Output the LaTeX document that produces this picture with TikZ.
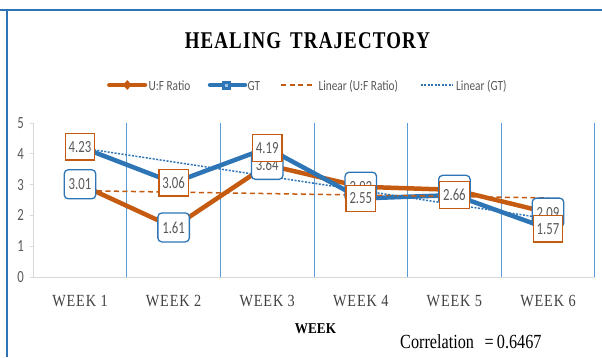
\documentclass[tikz,border=0pt]{standalone}
\usepackage{fontspec}
\usepackage{graphicx}
\usepackage{xcolor}
\usepackage{tikz}
\usetikzlibrary{shapes.geometric}
\setmainfont{Liberation Serif}
\newfontfamily\chartfont{Carlito}
\newfontfamily\spacedfont[LetterSpace=6]{Liberation Serif}
\definecolor{ufcol}{HTML}{C55A11}
\definecolor{gtcol}{HTML}{2E75B6}
\definecolor{gridcol}{HTML}{5B9BD5}
\definecolor{txtgray}{HTML}{595959}
\definecolor{weekgray}{HTML}{404040}
\definecolor{axisgray}{HTML}{D9D9D9}
\newcommand{\narrow}[2]{\scalebox{#1}[1]{#2}}

\tikzset{
  ufline/.style={ufcol, line width=4.5pt, line join=round, line cap=round},
  gtline/.style={gtcol, line width=4.5pt, line join=round, line cap=round},
  ufdash/.style={ufcol, line width=1.5pt, dash pattern=on 5pt off 3.5pt},
  gtdot/.style={gtcol, line width=1.5pt, dash pattern=on 2pt off 1.5pt},
  ufbox/.style={draw=gtcol, fill=white, line width=1.3pt, rounded corners=4pt,
    minimum width=31.5pt, minimum height=29pt, inner sep=0pt, text=txtgray,
    font=\chartfont\fontsize{17}{17}\selectfont},
  gtbox/.style={draw=ufcol, fill=white, line width=1.3pt,
    minimum width=29.5pt, minimum height=26.5pt, inner sep=0pt, text=txtgray,
    font=\chartfont\fontsize{17}{17}\selectfont},
  legtext/.style={anchor=base west, inner sep=0pt, text=txtgray,
    font=\chartfont\fontsize{14}{14}\selectfont},
  tick/.style={anchor=east, inner sep=0pt, text=txtgray,
    font=\chartfont\fontsize{17}{17}\selectfont},
  weeklabel/.style={anchor=base, inner sep=0pt, text=weekgray,
    font=\spacedfont\fontsize{17}{17}\selectfont}
}

\begin{document}
\begin{tikzpicture}[x=1pt,y=1pt]
\useasboundingbox (0,0) rectangle (602,357);

% frame
\draw[gtcol, line width=2pt] (0,347)--(602,347);
\draw[gtcol, line width=2pt] (7,347)--(7,0);

% title
\node[anchor=base, inner sep=0pt] (title) at (307.4,308.7)
  {\spacedfont\fontsize{24}{24}\selectfont\bfseries\narrow{0.79}{HEALING\hspace{4pt} TRAJECTORY}};

% legend
\draw[ufline] (109.3,272)--(145,272);
\node[diamond, fill=ufcol, inner sep=0pt, minimum width=9pt, minimum height=10pt] (lgu) at (127.3,272) {};
\node[legtext] (lguf) at (148.3,267) {\narrow{0.81}{U:F Ratio}};
\draw[gtline] (210,272)--(245,272);
\node[rectangle, fill=gtcol, inner sep=0pt, minimum size=9pt] (lgg) at (226.7,272) {};
\fill[gridcol!60!white] (225.2,270.5) rectangle (228.2,273.5);
\node[legtext] (lggt) at (247.3,267) {\narrow{0.81}{GT}};
\draw[ufdash] (281,272)--(312.3,272);
\node[legtext] (lgtu) at (318.3,267) {\narrow{0.81}{Linear (U:F Ratio)}};
\draw[gtdot] (420.7,272)--(453.3,272);
\node[legtext] (lgtg) at (456,267) {\narrow{0.81}{Linear (GT)}};

% axis titles
\node[anchor=base, inner sep=0pt] (xtitle) at (315.5,24)
  {\fontsize{15}{15}\selectfont\bfseries\narrow{0.88}{WEEK}};
\node[anchor=base west, inner sep=0pt] (corr) at (400,8.7)
  {\fontsize{20}{20}\selectfont\narrow{0.81}{Correlation\hspace{13pt}=\hspace{4pt}0.6467}};

\begin{scope}[shift={(-13.6pt,80pt)}, x=93.6pt, y=30.8pt]
% axes and grid
\draw[axisgray, line width=1pt] (0.5,0)--(0.5,5);
\draw[axisgray, line width=1pt] (0.466,0)--(6.5,0);
\foreach \v in {0,...,5} {
  \draw[axisgray, line width=1pt] (0.462,\v)--(0.5,\v);
  \node[tick] (t\v) at (0.402,\v) {\narrow{0.75}{\v}};
}
\foreach \x in {1.5,2.5,...,6.5}
  \draw[gridcol, line width=0.9pt] (\x,0)--(\x,5);
\foreach \i in {1,...,6}
  \node[weeklabel] (w\i) at (\i,-0.964) {\narrow{0.84}{WEEK \i}};

% data
\foreach \i/\u/\g in {1/3.01/4.23, 2/1.61/3.06, 3/3.64/4.19, 4/2.93/2.55, 5/2.83/2.66, 6/2.09/1.57} {
  \coordinate (u\i) at (\i,\u);
  \coordinate (g\i) at (\i,\g);
}
\draw[ufline] (u1)--(u2)--(u3)--(u4)--(u5)--(u6);
\draw[gtline] (g1)--(g2)--(g3)--(g4)--(g5)--(g6);

% trend lines
\coordinate (tu1) at (1,2.803);
\coordinate (tu6) at (6,2.567);
\coordinate (tg1) at (1,4.196);
\coordinate (tg6) at (6,1.891);
\draw[ufdash] (tu1)--(tu6);
\draw[gtdot] (tg1)--(tg6);

% data labels
\foreach \i/\t in {1/3.01, 2/1.61, 3/3.64, 4/2.93, 5/, 6/2.09}
  \node[ufbox] (ul\i) at (u\i) {\narrow{0.75}{\t}};
\foreach \i/\t in {1/4.23, 2/3.06, 3/4.19, 4/2.55, 5/2.66, 6/1.57}
  \node[gtbox] (gl\i) at (g\i) {\narrow{0.75}{\t}};
\end{scope}

\end{tikzpicture}
\end{document}
